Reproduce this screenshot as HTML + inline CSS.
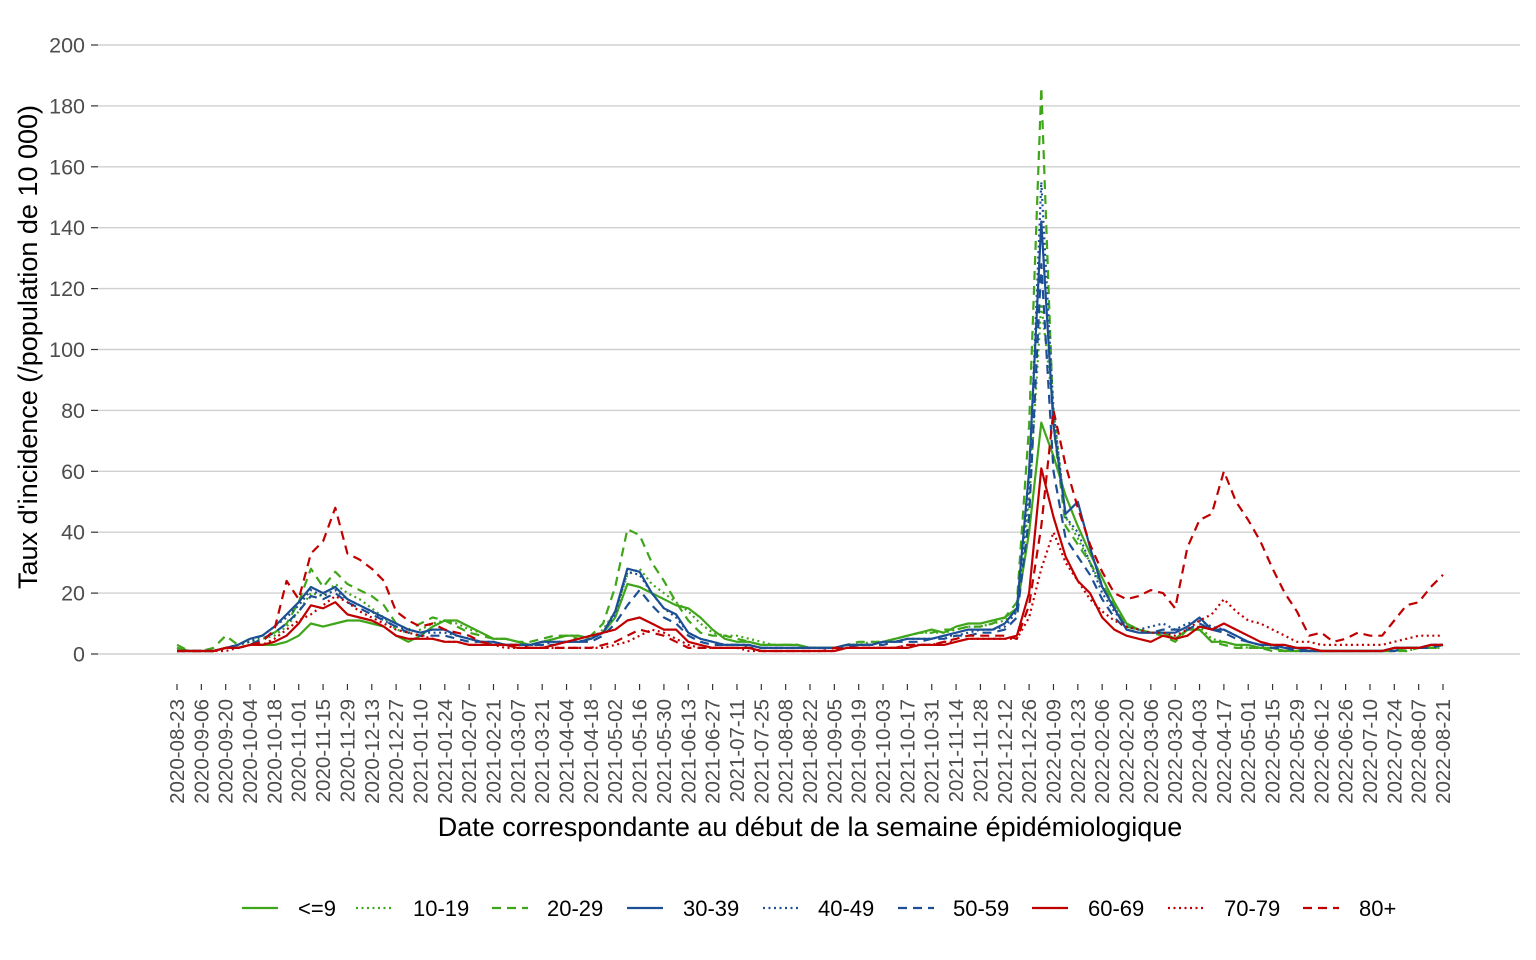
<!DOCTYPE html>
<html><head><meta charset="utf-8"><style>
body{margin:0;background:#fff;}
svg{display:block;font-family:"Liberation Sans",sans-serif;}
</style></head><body>
<svg id="chart" width="1536" height="960"></svg>
<script>
const weeks = [];
const startDate = new Date(Date.UTC(2020,7,23));
for (let i=0;i<105;i++){const d=new Date(startDate.getTime()+i*7*864e5);weeks.push(d.toISOString().slice(0,10));}
const yTicks = [0,20,40,60,80,100,120,140,160,180,200];
const seriesNames = ["<=9","10-19","20-29","30-39","40-49","50-59","60-69","70-79","80+"];
const s0_9 = [2,1,1,1,2,2,3,3,3,4, 6,10,9,10,11,11,10,9,6,4, 6,9,11,11,9,7,5,5,4,3, 4,5,6,6,5,7,12,23,22,20, 18,16,15,12,8,5,4,4,3,3, 3,3,2,2,2,3,3,3,4,5, 6,7,8,7,9,10,10,11,12,15, 40,76,65,52,42,33,25,17,10,8, 7,7,5,8,8,4,4,3,3,2, 2,1,1,1,1,1,1,1,1,1, 1,2,2,2,3];
const s10_19 = [2,1,1,1,2,3,4,5,6,9, 14,20,19,23,20,18,15,12,8,7, 8,10,11,10,8,7,5,5,4,3, 4,5,6,6,5,8,14,26,28,23, 20,17,14,10,7,6,6,5,4,3, 3,3,2,2,2,3,3,4,4,5, 6,7,7,7,8,9,9,10,11,14, 50,115,80,45,38,30,22,16,10,8, 7,7,5,8,9,5,4,3,2,2, 2,1,1,1,1,1,1,1,1,1, 1,1,2,2,2];
const s20_29 = [3,1,1,2,6,3,5,6,7,10, 17,28,22,27,23,21,19,16,10,8, 10,12,11,9,7,6,5,5,4,4, 5,6,6,5,6,10,22,41,39,30, 24,17,11,7,6,6,5,4,3,3, 3,3,2,2,2,3,4,4,4,5, 6,7,7,8,8,9,9,10,12,17, 75,186,75,42,36,30,23,16,9,8, 7,6,4,8,8,4,3,2,2,2, 1,1,1,1,1,1,1,1,1,1, 1,1,2,2,2];
const s30_39 = [1,1,1,1,2,3,5,6,9,13, 17,22,20,22,18,16,14,12,10,8, 7,8,8,6,5,4,4,3,3,3, 4,4,4,4,5,7,14,28,27,20, 15,13,7,5,4,3,3,3,2,2, 2,2,2,2,2,3,3,3,4,4, 5,5,5,6,7,8,8,8,10,15, 60,142,75,46,50,35,22,15,8,7, 7,7,7,9,12,8,8,6,4,3, 3,2,2,1,1,1,1,1,1,1, 2,2,2,3,3];
const s40_49 = [1,1,1,1,2,3,4,6,9,12, 16,21,19,21,18,16,14,11,9,8, 7,7,7,6,5,4,4,3,3,3, 3,4,4,4,5,7,13,27,26,20, 15,12,7,5,4,3,3,3,2,2, 2,2,2,2,2,3,3,3,4,4, 5,5,5,6,6,7,8,8,9,14, 55,155,80,45,40,30,20,14,9,8, 9,10,8,10,11,9,8,6,4,3, 3,2,2,1,1,1,1,1,1,1, 2,2,2,3,3];
const s50_59 = [1,1,1,1,2,2,3,5,7,10, 14,19,18,20,17,15,13,11,9,7, 6,6,6,5,4,4,3,3,3,3, 3,3,4,4,4,6,10,16,21,16, 12,10,6,4,3,3,3,2,2,2, 2,2,2,2,2,2,3,3,3,4, 4,4,5,5,6,6,7,7,8,12, 45,128,60,38,32,26,18,12,8,7, 7,8,8,8,10,8,7,5,4,3, 2,2,1,1,1,1,1,1,1,1, 1,2,2,2,3];
const s60_69 = [1,1,1,1,2,2,3,3,4,6, 10,16,15,17,13,12,11,9,6,5, 5,5,4,4,3,3,3,3,2,2, 2,3,4,5,6,7,8,11,12,10, 8,8,4,3,2,2,2,2,1,1, 1,1,1,1,1,2,2,2,2,2, 2,3,3,3,4,5,5,5,5,6, 20,61,45,32,24,20,12,8,6,5, 4,6,5,6,9,8,10,8,6,4, 3,3,2,2,1,1,1,1,1,1, 2,2,2,3,3];
const s70_79 = [1,1,1,1,1,2,3,3,5,8, 11,13,16,19,17,14,12,10,8,7, 6,5,4,4,3,3,3,2,2,2, 2,2,2,2,2,2,3,4,6,8, 7,5,3,2,2,2,2,1,1,1, 1,1,1,1,1,2,2,2,2,2, 3,3,3,4,4,5,5,5,5,5, 12,28,40,30,24,18,14,11,9,8, 7,7,6,8,11,13,18,14,11,10, 8,6,4,4,3,3,3,3,3,3, 4,5,6,6,6];
const s80p = [1,1,1,1,2,2,3,4,8,24, 18,33,37,48,33,31,28,24,14,11, 9,10,8,7,6,4,3,3,3,2, 2,2,2,2,2,3,4,6,8,7, 6,4,2,2,2,2,2,2,1,1, 1,1,1,1,2,2,2,2,2,2, 3,3,3,4,5,6,6,6,6,5, 16,42,80,62,48,36,27,20,18,19, 21,20,15,35,44,46,60,50,44,37, 28,20,14,6,7,4,5,7,6,6, 11,16,17,22,26];

const G="#3fa51a",B="#1c4f94",R="#c00000";
const DOT="2,3.5",DASH="9,6";
const styles=[[G,null],[G,DOT],[G,DASH],[B,null],[B,DOT],[B,DASH],[R,null],[R,DOT],[R,DASH]];
const allSeries=[s0_9,s10_19,s20_29,s30_39,s40_49,s50_59,s60_69,s70_79,s80p];

const NS="http://www.w3.org/2000/svg";
const svg=document.getElementById("chart");
function mk(t,a,p){const e=document.createElementNS(NS,t);for(const k in a)e.setAttribute(k,a[k]);(p||svg).appendChild(e);return e;}
const xS=i=>177+i*(1443-177)/104;
const yS=v=>654-v*(654-45)/200;

const grid=mk("g",{});


yTicks.forEach(t=>{
  const l=mk("line",{x1:98,x2:1520,y1:yS(t),y2:yS(t),stroke:"#d0d0d0","stroke-width":1.4},grid);
  
  
  const tk=mk("line",{x1:91,x2:98,y1:yS(t),y2:yS(t),stroke:"#333","stroke-width":1.2},grid);
  
  
  const tx=mk("text",{x:85,y:yS(t)+7.5,"text-anchor":"end","font-size":21.5,fill:"#4d4d4d"},grid);
  tx.textContent=t;
  
  
});
for(let i=0;i<weeks.length;i+=2){
  const x=xS(i);
  const tk=mk("line",{x1:x,x2:x,y1:684,y2:690,stroke:"#333","stroke-width":1.2});
  
  
  const tx=mk("text",{x:0,y:0,"text-anchor":"end","font-size":20.5,fill:"#4d4d4d",transform:`translate(${x+7},699) rotate(-90)`});
  tx.textContent=weeks[i];
  
  
}
allSeries.forEach((s,k)=>{
  const d=s.map((v,i)=>(i?"L":"M")+xS(i).toFixed(1)+","+yS(v).toFixed(1)).join("");
  const p=mk("path",{d,fill:"none",stroke:styles[k][0],"stroke-width":2.2,"stroke-linejoin":"round"});
  if(styles[k][1])p.setAttribute("stroke-dasharray",styles[k][1]);
  
  
});
const xt=mk("text",{x:810,y:836,"text-anchor":"middle","font-size":27,fill:"#000"});
xt.textContent="Date correspondante au début de la semaine épidémiologique";


const yt=mk("text",{x:0,y:0,"text-anchor":"middle","font-size":27,fill:"#000",transform:"translate(37,347) rotate(-90)"});
yt.textContent="Taux d'incidence (/population de 10 000)";


const legX=[242,356,492,627,763,898,1032,1168,1303];
const legLab=[298,413,547,683,818,953,1088,1224,1359];
const legend=mk("g",{});


seriesNames.forEach((n,k)=>{
  const g=mk("g",{},legend);
  
  
  const l=mk("line",{x1:legX[k],x2:legX[k]+36,y1:908,y2:908,stroke:styles[k][0],"stroke-width":2.2},g);
  if(styles[k][1])l.setAttribute("stroke-dasharray",styles[k][1]);
  const t=mk("text",{x:legLab[k],y:916,"font-size":22,fill:"#000"},g);
  t.textContent=n;
});
</script>
</body></html>
